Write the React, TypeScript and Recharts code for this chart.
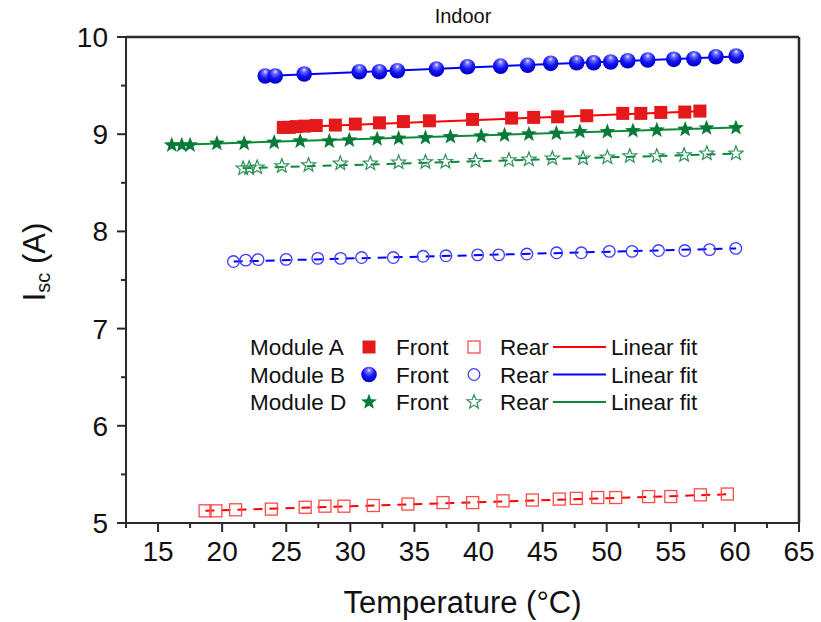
import React from 'react';
import { ComposedChart, Scatter, Line, XAxis, YAxis, ReferenceLine } from 'recharts';

// Axis ticks
const tempTicks = [12.5, 15, 17.5, 20, 22.5, 25, 27.5, 30, 32.5, 35, 37.5, 40, 42.5, 45, 47.5, 50, 52.5, 55, 57.5, 60, 62.5, 65];
const iscTicks = [5, 5.5, 6, 6.5, 7, 7.5, 8, 8.5, 9, 9.5, 10];

// Module A – front side
const aFrontTemp = [24.77, 25.23, 25.78, 26.4, 27.34, 28.83, 30.39, 32.27, 34.14, 36.17, 39.53, 42.58, 44.3, 46.17, 48.44, 51.25, 52.66, 54.22, 56.09, 57.27];
const aFrontIsc = [9.07, 9.07, 9.078, 9.083, 9.089, 9.094, 9.104, 9.117, 9.13, 9.138, 9.152, 9.166, 9.173, 9.179, 9.19, 9.214, 9.214, 9.224, 9.228, 9.238];
// Module A – rear side
const aRearTemp = [18.67, 19.51, 21.05, 23.84, 26.48, 28.02, 29.5, 31.79, 34.49, 37.23, 39.54, 41.91, 44.2, 46.3, 47.63, 49.3, 50.7, 53.27, 55.0, 57.31, 59.41];
const aRearIsc = [5.125, 5.125, 5.136, 5.143, 5.162, 5.173, 5.173, 5.18, 5.195, 5.21, 5.21, 5.228, 5.236, 5.246, 5.253, 5.262, 5.262, 5.272, 5.272, 5.29, 5.298];

// Module B – front side
const bFrontTemp = [23.36, 24.14, 26.4, 30.7, 32.27, 33.67, 36.72, 39.14, 41.72, 43.83, 45.63, 47.66, 48.98, 50.31, 51.64, 53.2, 55.23, 56.8, 58.52, 60.1];
const bFrontIsc = [9.598, 9.598, 9.619, 9.643, 9.643, 9.653, 9.67, 9.694, 9.7, 9.71, 9.729, 9.735, 9.735, 9.743, 9.756, 9.763, 9.77, 9.776, 9.797, 9.804];
// Module B – rear side
const bRearTemp = [20.88, 21.84, 22.8, 24.99, 27.46, 29.24, 30.88, 33.35, 35.68, 37.46, 39.93, 41.57, 43.77, 46.09, 48.02, 50.2, 51.98, 54.04, 56.09, 58.02, 60.07];
const bRearIsc = [7.69, 7.704, 7.71, 7.712, 7.722, 7.722, 7.731, 7.731, 7.744, 7.749, 7.758, 7.758, 7.767, 7.78, 7.78, 7.794, 7.794, 7.803, 7.803, 7.812, 7.825];

// Module D – front side
const dFrontTemp = [16.07, 16.85, 17.5, 19.59, 21.72, 24.06, 26.09, 28.36, 29.92, 32.09, 33.77, 35.86, 37.81, 40.21, 42.03, 43.93, 46.07, 47.91, 50.05, 52.05, 53.91, 56.12, 57.79, 60.08];
const dFrontIsc = [8.888, 8.888, 8.888, 8.905, 8.905, 8.916, 8.929, 8.929, 8.939, 8.95, 8.957, 8.963, 8.973, 8.98, 8.99, 9.001, 9.008, 9.025, 9.025, 9.035, 9.042, 9.049, 9.063, 9.066];
// Module D – rear side
const dRearTemp = [21.64, 22.11, 22.73, 24.66, 26.74, 29.22, 31.56, 33.77, 35.86, 37.42, 39.77, 42.37, 43.93, 45.76, 48.15, 50.05, 51.8, 53.91, 56.04, 57.81, 60.08];
const dRearIsc = [8.648, 8.651, 8.658, 8.672, 8.682, 8.699, 8.699, 8.71, 8.713, 8.716, 8.726, 8.733, 8.74, 8.751, 8.751, 8.761, 8.774, 8.774, 8.785, 8.802, 8.802];

// Linear fit end points
const aFrontFitTemp = [24.8, 57.3];
const aFrontFitIsc = [9.07, 9.235];
const aRearFitTemp = [18.7, 59.4];
const aRearFitIsc = [5.125, 5.295];
const bFrontFitTemp = [23.4, 60.1];
const bFrontFitIsc = [9.6, 9.8];
const bRearFitTemp = [20.9, 60.1];
const bRearFitIsc = [7.69, 7.825];
const dFrontFitTemp = [16.1, 60.1];
const dFrontFitIsc = [8.89, 9.07];
const dRearFitTemp = [21.6, 60.1];
const dRearFitIsc = [8.65, 8.8];

const toPoints = (xs: number[], ys: number[]) => xs.map((x, i) => ({ x, y: ys[i] }));

const RED = '#e3191c';
const RED_LINE = '#ff0000';
const RED_OPEN = '#ff4a4a';
const BLUE_LINE = '#0000ff';
const BLUE_OPEN = '#3c3cff';
const GREEN = '#087a38';
const GREEN_LINE = '#0b8a3c';
const GREEN_OPEN = '#2f8f58';
const AXIS = '#2a2a2a';
const FONT = '"Liberation Sans", Arial, sans-serif';

const starPath = (cx: number, cy: number, R: number, r: number) => {
  let d = '';
  for (let i = 0; i < 10; i++) {
    const ang = -Math.PI / 2 + (i * Math.PI) / 5;
    const rad = i % 2 === 0 ? R : r;
    d += (i === 0 ? 'M' : 'L') + (cx + rad * Math.cos(ang)).toFixed(2) + ',' + (cy + rad * Math.sin(ang)).toFixed(2);
  }
  return d + 'Z';
};

const FilledSquare = ({ cx, cy, s = 13 }: any) => (
  <rect x={cx - s / 2} y={cy - s / 2} width={s} height={s} fill={RED} />
);
const OpenSquare = ({ cx, cy, s = 12 }: any) => (
  <rect x={cx - s / 2} y={cy - s / 2} width={s} height={s} fill="none" stroke={RED_OPEN} strokeWidth={1.3} />
);
const Ball = ({ cx, cy, r = 7.8 }: any) => <circle cx={cx} cy={cy} r={r} fill="url(#blueBall)" />;
const OpenCircle = ({ cx, cy, r = 5.8 }: any) => (
  <circle cx={cx} cy={cy} r={r} fill="none" stroke={BLUE_OPEN} strokeWidth={1.3} />
);
const FilledStar = ({ cx, cy, R = 8.4 }: any) => <path d={starPath(cx, cy, R, R * 0.42)} fill={GREEN} />;
const OpenStar = ({ cx, cy, R = 7.4 }: any) => (
  <path d={starPath(cx, cy, R, R * 0.42)} fill="none" stroke={GREEN_OPEN} strokeWidth={1.2} />
);

const XTick = ({ x, y, payload }: any) => {
  const major = payload.value % 5 === 0;
  return (
    <g>
      <line x1={x} x2={x} y1={y} y2={y + (major ? 9 : 5)} stroke={AXIS} strokeWidth={2} />
      {major && (
        <text x={x} y={y + 38} textAnchor="middle" fontSize={28} fontFamily={FONT} fill="#111">
          {payload.value}
        </text>
      )}
    </g>
  );
};

const YTick = ({ x, y, payload }: any) => {
  const major = payload.value % 1 === 0;
  return (
    <g>
      <line x1={x} x2={x - (major ? 9 : 5)} y1={y} y2={y} stroke={AXIS} strokeWidth={2} />
      {major && (
        <text x={x - 18} y={y + 10} textAnchor="end" fontSize={28} fontFamily={FONT} fill="#111">
          {payload.value}
        </text>
      )}
    </g>
  );
};

const legendRows = [
  { name: 'Module A', color: RED_LINE, filled: FilledSquare, open: OpenSquare },
  { name: 'Module B', color: BLUE_LINE, filled: Ball, open: OpenCircle },
  { name: 'Module D', color: GREEN_LINE, filled: FilledStar, open: OpenStar },
];

const Overlay = () => (
  <svg width={821} height={622} style={{ position: 'absolute', left: 0, top: 0, pointerEvents: 'none' }}>
    <text x={463} y={23} textAnchor="middle" fontSize={20} fontFamily={FONT} fill="#111">
      Indoor
    </text>
    <text
      x={45}
      y={262}
      textAnchor="middle"
      fontSize={31}
      fontFamily={FONT}
      fill="#111"
      transform="rotate(-90 45 262)"
    >
      <tspan>I</tspan>
      <tspan fontSize={20} dy={5}>sc</tspan>
      <tspan dy={-5}> (A)</tspan>
    </text>
    {legendRows.map((row, i) => {
      const cy = 347 + i * 27.5;
      const F = row.filled;
      const O = row.open;
      return (
        <g key={row.name} fontFamily={FONT} fontSize={22.5} fill="#111">
          <text x={250} y={cy + 8}>{row.name}</text>
          <F cx={369} cy={cy} />
          <text x={396} y={cy + 8}>Front</text>
          <O cx={474} cy={cy} />
          <text x={500} y={cy + 8}>Rear</text>
          <line x1={553} x2={606} y1={cy} y2={cy} stroke={row.color} strokeWidth={2} />
          <text x={611} y={cy + 8}>Linear fit</text>
        </g>
      );
    })}
  </svg>
);

export default function App() {
  return (
    <div style={{ position: 'absolute', left: 0, top: 0, width: 821, height: 622, background: '#fff', fontFamily: FONT }}>
      <svg width={0} height={0} style={{ position: 'absolute' }}>
        <defs>
          <radialGradient id="blueBall" cx="50%" cy="32%" r="62%" fx="50%" fy="22%">
            <stop offset="0%" stopColor="#ececff" />
            <stop offset="22%" stopColor="#7070ff" />
            <stop offset="60%" stopColor="#1515f5" />
            <stop offset="100%" stopColor="#0000c8" />
          </radialGradient>
        </defs>
      </svg>
      <ComposedChart width={821} height={622} margin={{ top: 37, right: 22, bottom: 0, left: 0 }}>
        <XAxis
          type="number"
          dataKey="x"
          domain={[12.5, 65]}
          ticks={tempTicks}
          interval={0}
          allowDataOverflow
          height={99}
          tickSize={0}
          tickMargin={0}
          tickLine={false}
          tick={<XTick />}
          axisLine={{ stroke: AXIS, strokeWidth: 2 }}
          label={{ value: 'Temperature (°C)', position: 'insideBottom', offset: 9, fontSize: 31, fill: '#111', fontFamily: FONT }}
        />
        <YAxis
          type="number"
          dataKey="y"
          domain={[5, 10]}
          ticks={iscTicks}
          interval={0}
          allowDataOverflow
          width={126}
          tickSize={0}
          tickMargin={0}
          tickLine={false}
          tick={<YTick />}
          axisLine={{ stroke: AXIS, strokeWidth: 2 }}
        />
        <ReferenceLine y={10} stroke={AXIS} strokeWidth={2.5} />
        <ReferenceLine x={65} stroke={AXIS} strokeWidth={2.5} />

        <Scatter data={toPoints(aRearTemp, aRearIsc)} shape={<OpenSquare />} isAnimationActive={false} />
        <Scatter data={toPoints(bRearTemp, bRearIsc)} shape={<OpenCircle />} isAnimationActive={false} />
        <Scatter data={toPoints(dRearTemp, dRearIsc)} shape={<OpenStar />} isAnimationActive={false} />
        <Scatter data={toPoints(aFrontTemp, aFrontIsc)} shape={<FilledSquare />} isAnimationActive={false} />
        <Scatter data={toPoints(bFrontTemp, bFrontIsc)} shape={<Ball />} isAnimationActive={false} />
        <Scatter data={toPoints(dFrontTemp, dFrontIsc)} shape={<FilledStar />} isAnimationActive={false} />

        <Line data={toPoints(aRearFitTemp, aRearFitIsc)} dataKey="y" stroke={RED_LINE} strokeWidth={2} strokeDasharray="9 7" dot={false} activeDot={false} isAnimationActive={false} />
        <Line data={toPoints(bRearFitTemp, bRearFitIsc)} dataKey="y" stroke={BLUE_LINE} strokeWidth={2} strokeDasharray="9 7" dot={false} activeDot={false} isAnimationActive={false} />
        <Line data={toPoints(dRearFitTemp, dRearFitIsc)} dataKey="y" stroke={GREEN_LINE} strokeWidth={2} strokeDasharray="9 7" dot={false} activeDot={false} isAnimationActive={false} />
        <Line data={toPoints(aFrontFitTemp, aFrontFitIsc)} dataKey="y" stroke={RED_LINE} strokeWidth={2} dot={false} activeDot={false} isAnimationActive={false} />
        <Line data={toPoints(bFrontFitTemp, bFrontFitIsc)} dataKey="y" stroke={BLUE_LINE} strokeWidth={2} dot={false} activeDot={false} isAnimationActive={false} />
        <Line data={toPoints(dFrontFitTemp, dFrontFitIsc)} dataKey="y" stroke={GREEN_LINE} strokeWidth={2} dot={false} activeDot={false} isAnimationActive={false} />
      </ComposedChart>
      <Overlay />
    </div>
  );
}
